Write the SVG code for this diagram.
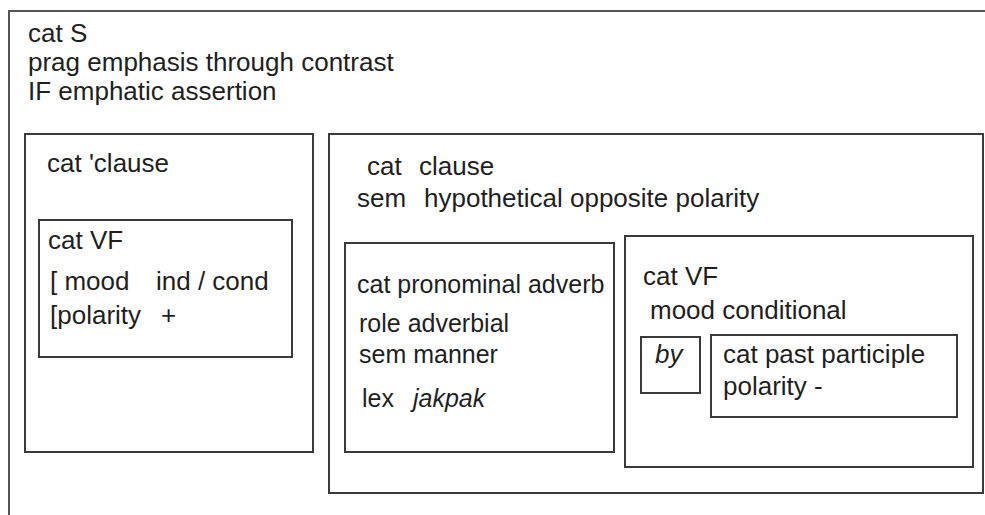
<svg xmlns="http://www.w3.org/2000/svg" width="985" height="515" viewBox="0 0 985 515">
  <style>
    .box { fill: none; stroke: #3a3a3a; stroke-width: 2; }
    .outer { fill: none; stroke: #555; stroke-width: 2; }
    text { font-family: "Liberation Sans", Arial, sans-serif; font-size: 26px; fill: #1f1f1f; }
    .sm { font-size: 25px; }
    .it { font-style: italic; }
  </style>
  <rect width="985" height="515" fill="#fff"/>

  <!-- sentence frame (open to the right and bottom) -->
  <g id="sentence">
    <path class="outer" d="M9,515 V11 H985"/>
    <text x="28" y="42">cat S</text>
    <text x="28" y="71">prag emphasis through contrast</text>
    <text x="28" y="100">IF emphatic assertion</text>
  </g>

  <!-- first clause -->
  <g id="clause-1">
    <rect class="box" x="25" y="134" width="288" height="318"/>
    <text x="47" y="172">cat 'clause</text>
  </g>
  <g id="vf-1">
    <rect class="box" x="39" y="220" width="253" height="137"/>
    <text x="48" y="249">cat VF</text>
    <text x="50" y="290">[ mood</text>
    <text x="156" y="290">ind / cond</text>
    <text x="50" y="324">[polarity</text>
    <text x="161" y="324">+</text>
  </g>

  <!-- second clause -->
  <g id="clause-2">
    <rect class="box" x="329" y="134" width="654" height="359"/>
    <text x="367" y="175">cat</text>
    <text x="419" y="175">clause</text>
    <text x="357" y="207">sem</text>
    <text x="424" y="207">hypothetical opposite polarity</text>
  </g>
  <g id="adverb">
    <rect class="box" x="345" y="243" width="269" height="209"/>
    <text class="sm" x="357" y="293">cat pronominal adverb</text>
    <text class="sm" x="359" y="332">role adverbial</text>
    <text class="sm" x="359" y="363">sem manner</text>
    <text class="sm" x="362" y="407">lex</text>
    <text class="sm it" x="413" y="407">jakpak</text>
  </g>
  <g id="vf-2">
    <rect class="box" x="625" y="236" width="348" height="231"/>
    <text x="643" y="285">cat VF</text>
    <text x="650" y="319">mood conditional</text>
  </g>
  <g id="by">
    <rect class="box" x="641" y="337" width="59" height="56"/>
    <text class="it" x="655" y="363">by</text>
  </g>
  <g id="participle">
    <rect class="box" x="711" y="335" width="246" height="82"/>
    <text x="723" y="363">cat past participle</text>
    <text x="723" y="395">polarity -</text>
  </g>

  <g id="connectors"></g>
</svg>
